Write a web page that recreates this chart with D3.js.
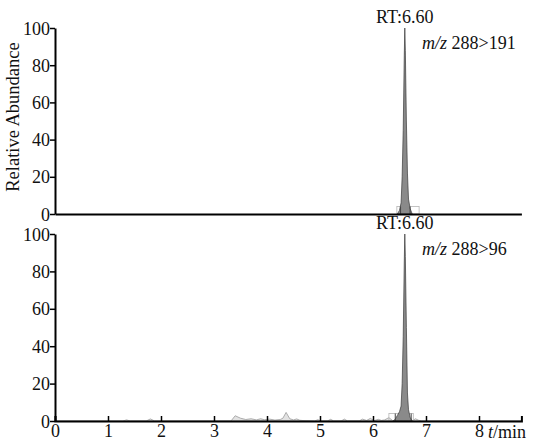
<!DOCTYPE html>
<html>
<head>
<meta charset="utf-8">
<script src="https://cdn.jsdelivr.net/npm/d3@7"></script>
<style>
    body { margin: 0; background: #fff; }
    text { font-family: 'Liberation Serif', 'Times New Roman', serif; fill: #111; }
</style>
</head>
<body>
<div id="chart"></div>
<script>
// retention time axis
const xTicks = [0, 1, 2, 3, 4, 5, 6, 7, 8]
const yTicks = [0, 20, 40, 60, 80, 100]
const tMax = 8.8

// peak for m/z 288>191
const peak1T = [6.46, 6.50, 6.53, 6.55, 6.57, 6.59, 6.60, 6.61, 6.63, 6.65, 6.67, 6.70, 6.74]
const peak1V = [0, 2, 6, 20, 45, 85, 100, 88, 50, 22, 8, 3, 0]

// peak for m/z 288>96
const peak2T = [6.38, 6.42, 6.46, 6.50, 6.53, 6.55, 6.57, 6.59, 6.60, 6.61, 6.63, 6.65, 6.67, 6.70, 6.74]
const peak2V = [0, 1, 3, 5, 8, 20, 45, 85, 100, 88, 50, 15, 6, 2, 0]

// baseline noise for m/z 288>96
const noiseT = [0, 1.28, 1.35, 1.42, 1.72, 1.8, 1.88, 3.32, 3.4, 3.5, 3.6, 3.7, 3.8, 3.88, 3.95, 4.05, 4.15, 4.25, 4.3, 4.36, 4.43, 4.5, 4.56, 4.62, 4.7, 4.9, 4.96, 5.02, 5.14, 5.2, 5.26, 5.4, 5.46, 5.52, 5.74, 5.8, 5.88, 5.95, 6.02, 6.1, 6.16, 6.22, 6.3, 6.38, 6.74, 6.8, 6.86, 6.92, 8.8]
const noiseV = [0, 0, 0.6, 0, 0, 1.1, 0, 0, 2.8, 1.5, 0.8, 1.2, 0.6, 1.2, 0.7, 1.0, 0.5, 0.8, 1.5, 4.6, 1.2, 0.6, 1.1, 0.4, 0.2, 0, 0.7, 0, 0, 0.9, 0, 0, 1.0, 0, 0, 1.0, 0.3, 1.4, 0.2, 0.9, 0.3, 0.6, 1.8, 0, 0, 1.2, 0.4, 0, 0]

// integration markers [start, end]
const box1 = [6.45, 6.87]
const mark1 = [6.52, 6.70]
const box2 = [6.30, 6.76]
const mark2 = [6.42, 6.72]

const panels = [
    { top: 28, bottom: 214, peakT: peak1T, peakV: peak1V, box: box1, mark: mark1, label: '288>191', noise: false, xLabels: false },
    { top: 234, bottom: 421, peakT: peak2T, peakV: peak2V, box: box2, mark: mark2, label: '288>96', noise: true, xLabels: true }
]

const FONT = "'Liberation Serif', 'Times New Roman', serif"

const svg = d3.select('#chart')
    .append('svg')
    .attr('width', 533)
    .attr('height', 443)

const xScale = d3.scaleLinear().domain([0, tMax]).range([55, 521.4])

panels.forEach(function (p) {
    const yScale = d3.scaleLinear().domain([0, 100]).range([p.bottom, p.top])

    //noise line
    if (p.noise) {
        const noiseData = noiseT.map((t, i) => ({ t: t, v: noiseV[i] }))
        svg.append('path')
            .datum(noiseData)
            .attr('fill', '#e2e2e2')
            .attr('stroke', '#9a9a9a')
            .attr('stroke-width', 0.8)
            .attr('d', d3.area()
                .x(d => xScale(d.t))
                .y0(yScale(0))
                .y1(d => yScale(d.v)))
    }

    //integration box
    svg.append('rect')
        .attr('x', xScale(p.box[0]))
        .attr('y', yScale(4))
        .attr('width', xScale(p.box[1]) - xScale(p.box[0]))
        .attr('height', yScale(0) - yScale(4))
        .attr('fill', 'none')
        .attr('stroke', '#b5b5b5')
        .attr('stroke-width', 0.8)

    //peak area
    const peakData = p.peakT.map((t, i) => ({ t: t, v: p.peakV[i] }))
    svg.append('path')
        .datum(peakData)
        .style('fill', '#8a8a8a')
        .attr('stroke', '#3a3a3a')
        .attr('stroke-width', 0.7)
        .attr('stroke-linejoin', 'round')
        .attr('d', d3.area()
            .x(d => xScale(d.t))
            .y0(yScale(0))
            .y1(d => yScale(d.v)))

    //peak boundary markers
    svg.selectAll(null)
        .data(p.mark)
        .enter()
        .append('line')
        .attr('x1', d => xScale(d))
        .attr('x2', d => xScale(d))
        .attr('y1', yScale(0))
        .attr('y2', yScale(4))
        .attr('stroke', '#444')
        .attr('stroke-width', 1)

    //y axis
    const yaxis = svg.append('g')
        .attr('transform', 'translate(' + xScale(0) + ',0)')
        .call(d3.axisLeft(yScale).tickValues(yTicks).tickSizeInner(5).tickSizeOuter(0).tickPadding(0))
        .attr('font-family', FONT)
    yaxis.select('.domain').attr('stroke-width', 2)
    yaxis.selectAll('.tick line').attr('stroke-width', 1.5)
    yaxis.selectAll('text').style('font-size', '18px').attr('dy', '0.34em')

    //x axis
    const xaxis = d3.axisBottom(xScale)
        .tickSizeOuter(p.xLabels ? -5 : 0)
    if (p.xLabels) {
        xaxis.tickValues(xTicks).tickSizeInner(-5).tickPadding(3)
    } else {
        xaxis.tickValues([])
    }
    const xg = svg.append('g')
        .attr('transform', 'translate(0,' + yScale(0) + ')')
        .call(xaxis)
        .attr('font-family', FONT)
    xg.select('.domain').attr('stroke-width', 2)
    xg.selectAll('.tick line').attr('stroke-width', 1.5)
    xg.selectAll('text').style('font-size', '18px')

    //retention time label
    svg.append('text')
        .attr('x', xScale(6.6))
        .attr('y', p.top - 5)
        .attr('text-anchor', 'middle')
        .style('font-size', '18px')
        .text('RT:6.60')

    //transition label
    const lab = svg.append('text')
        .attr('x', 422)
        .attr('y', p.top + 21)
        .style('font-size', '18px')
    lab.append('tspan').style('font-style', 'italic').text('m/z')
    lab.append('tspan').text(' ' + p.label)
})

//x axis unit
const unit = svg.append('text')
    .attr('x', 488)
    .attr('y', 438)
    .style('font-size', '18px')
unit.append('tspan').style('font-style', 'italic').text('t')
unit.append('tspan').text('/min')

//append y label
svg.append('text')
    .attr('transform', 'translate(19,117) rotate(-90)')
    .attr('text-anchor', 'middle')
    .style('font-size', '18.5px')
    .text('Relative Abundance')
</script>
</body>
</html>
